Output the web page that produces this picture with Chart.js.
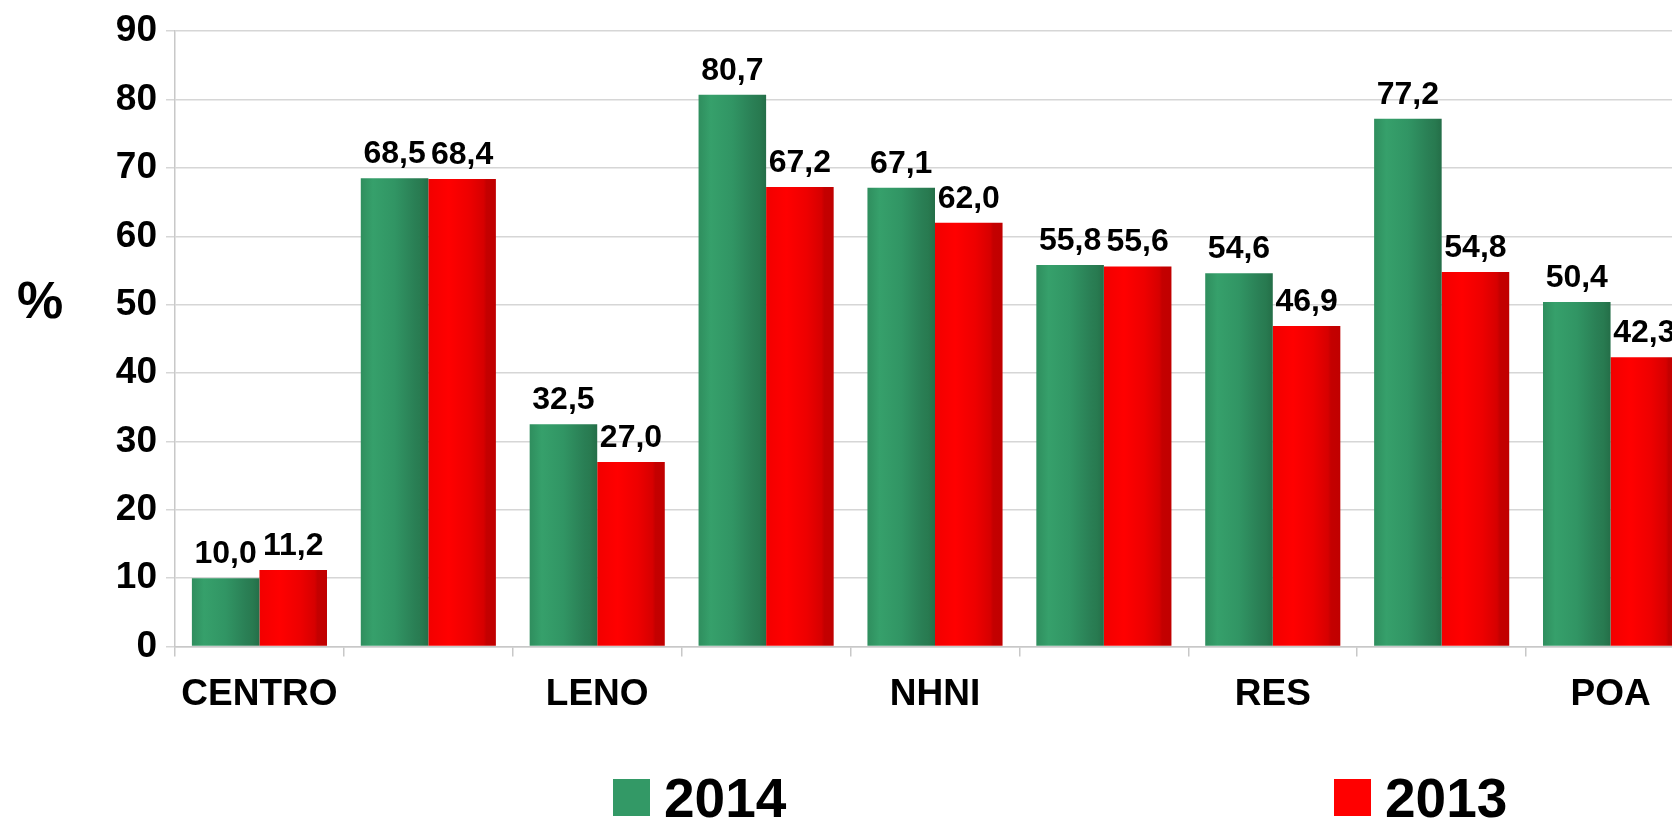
<!DOCTYPE html>
<html><head><meta charset="utf-8">
<script src="https://cdn.jsdelivr.net/npm/chart.js@4/dist/chart.umd.min.js"></script>
<style>
html,body{margin:0;padding:0;overflow:hidden;background:#fff;width:1672px;height:818px}
#wrap{position:absolute;left:0;top:0;width:1700px;height:818px}
</style></head>
<body><div id="wrap"><canvas id="c" width="1700" height="818"></canvas></div>
<script>
const categories = ['CENTRO', '', 'LENO', '', 'NHNI', '', 'RES', '', 'POA'];
const seriesNames = ['2014', '2013'];
const values2014 = [10.0, 68.5, 32.5, 80.7, 67.1, 55.8, 54.6, 77.2, 50.4];
const values2013 = [11.2, 68.4, 27.0, 67.2, 62.0, 55.6, 46.9, 54.8, 42.3];
const yTickValues = [0, 10, 20, 30, 40, 50, 60, 70, 80, 90];
const yAxisTitle = '%';

const FONT = '"Liberation Sans", Arial, sans-serif';
const greenStops = [[0,'#2f8e5e'],[0.18,'#36a06b'],[0.5,'#319564'],[0.8,'#2a7f55'],[0.9,'#287a50'],[1,'#246e48']];
const redStops = [[0,'#f20000'],[0.3,'#ff0000'],[0.6,'#ee0000'],[0.82,'#d60000'],[0.86,'#c40000'],[1,'#c00000']];
const solid = ['#339966', '#ff0000'];

function barGradient(ctx, stops, fallback) {
  const chart = ctx.chart;
  if (ctx.type !== 'data' || !chart.chartArea || !chart.scales.x) return fallback;
  const xs = chart.scales.x;
  const cat = xs.width / categories.length;
  const bw = cat * 0.8 / 2;
  const cx = xs.getPixelForValue(ctx.dataIndex) + (ctx.datasetIndex - 0.5) * bw;
  if (!isFinite(cx)) return fallback;
  const g = chart.ctx.createLinearGradient(cx - bw / 2, 0, cx + bw / 2, 0);
  stops.forEach(s => g.addColorStop(s[0], s[1]));
  return g;
}

const extras = {
  id: 'extras',
  afterDatasetsDraw(chart) {
    const c = chart.ctx;
    c.save();
    c.fillStyle = '#000';
    c.font = 'bold 32px ' + FONT;
    c.textAlign = 'center';
    c.textBaseline = 'alphabetic';
    chart.data.datasets.forEach((ds, di) => {
      chart.getDatasetMeta(di).data.forEach((bar, i) => {
        const txt = ds.data[i].toFixed(1).replace('.', ',');
        c.fillText(txt, bar.x, bar.y - 15);
      });
    });
    c.restore();
  },
  afterDraw(chart) {
    const c = chart.ctx;
    c.save();
    c.fillStyle = '#000';
    c.font = 'bold 52px ' + FONT;
    c.textAlign = 'center';
    c.textBaseline = 'middle';
    c.fillText(yAxisTitle, 40, 304);
    const legendX = [613, 1334];
    const boxTop = 779, box = 37;
    c.font = 'bold 55px ' + FONT;
    c.textAlign = 'left';
    c.textBaseline = 'alphabetic';
    chart.data.datasets.forEach((ds, di) => {
      c.fillStyle = solid[di];
      c.fillRect(legendX[di], boxTop, box, box);
      c.fillStyle = '#000';
      c.fillText(ds.label, legendX[di] + box + 14, 817);
    });
    c.restore();
  }
};

new Chart(document.getElementById('c'), {
  type: 'bar',
  data: {
    labels: categories,
    datasets: [
      { label: seriesNames[0], data: values2014,
        backgroundColor: ctx => barGradient(ctx, greenStops, solid[0]) },
      { label: seriesNames[1], data: values2013,
        backgroundColor: ctx => barGradient(ctx, redStops, solid[1]) }
    ]
  },
  options: {
    responsive: false,
    animation: false,
    devicePixelRatio: 1,
    layout: { padding: { top: 0, right: 5, bottom: 85, left: 0 } },
    datasets: { bar: { barPercentage: 1.0, categoryPercentage: 0.8, borderWidth: 0 } },
    plugins: { legend: { display: false }, tooltip: { enabled: false } },
    scales: {
      y: {
        min: 0, max: 90,
        afterFit(s) { s.width = 175; },
        afterBuildTicks(s) { s.ticks = yTickValues.map(v => ({ value: v })); },
        ticks: { color: '#000', padding: 9, font: { family: FONT, size: 37, weight: 'bold' } },
        grid: { color: '#d6d6d6', lineWidth: 1.5, tickLength: 9 },
        border: { color: '#c8c8c8', width: 1.5 }
      },
      x: {
        offset: true,
        ticks: { color: '#000', autoSkip: false, maxRotation: 0, padding: 16,
                 font: { family: FONT, size: 37, weight: 'bold' } },
        grid: { offset: true, drawOnChartArea: false, tickLength: 10, color: '#c8c8c8', lineWidth: 1.5 },
        border: { color: '#c8c8c8', width: 1.5 }
      }
    }
  },
  plugins: [extras]
});
</script>
</body></html>
